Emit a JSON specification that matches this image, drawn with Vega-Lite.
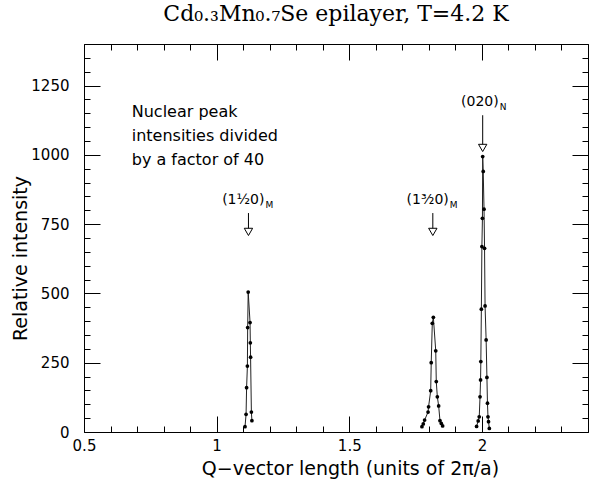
{
  "$schema": "https://vega.github.io/schema/vega-lite/v6.json",
  "width": 504,
  "height": 388,
  "autosize": "none",
  "padding": {"left": 84, "top": 44, "right": 1, "bottom": 48},
  "background": "white",
  "config": {"view": {"stroke": null}, "font": "DejaVu Sans"},
  "title": {"text": "Cd₀.₃Mn₀.₇Se epilayer, T=4.2 K", "font": "DejaVu Serif", "fontSize": 22, "fontWeight": "normal", "color": "black", "offset": 11},
  "datasets": {
    "pts": [
      {"i": 1, "peak": "A", "q": 1.107, "v": 19},
      {"i": 2, "peak": "A", "q": 1.111, "v": 64},
      {"i": 3, "peak": "A", "q": 1.113, "v": 160},
      {"i": 4, "peak": "A", "q": 1.116, "v": 238},
      {"i": 5, "peak": "A", "q": 1.117, "v": 377},
      {"i": 6, "peak": "A", "q": 1.119, "v": 505},
      {"i": 7, "peak": "A", "q": 1.126, "v": 395},
      {"i": 8, "peak": "A", "q": 1.127, "v": 322},
      {"i": 9, "peak": "A", "q": 1.128, "v": 270},
      {"i": 10, "peak": "A", "q": 1.131, "v": 72},
      {"i": 11, "peak": "A", "q": 1.133, "v": 41},
      {"i": 12, "peak": "B", "q": 1.774, "v": 19},
      {"i": 13, "peak": "B", "q": 1.779, "v": 29},
      {"i": 14, "peak": "B", "q": 1.784, "v": 43},
      {"i": 15, "peak": "B", "q": 1.797, "v": 72},
      {"i": 16, "peak": "B", "q": 1.799, "v": 91},
      {"i": 17, "peak": "B", "q": 1.807, "v": 149},
      {"i": 18, "peak": "B", "q": 1.809, "v": 250},
      {"i": 19, "peak": "B", "q": 1.813, "v": 392},
      {"i": 20, "peak": "B", "q": 1.817, "v": 414},
      {"i": 21, "peak": "B", "q": 1.826, "v": 293},
      {"i": 22, "peak": "B", "q": 1.828, "v": 182},
      {"i": 23, "peak": "B", "q": 1.832, "v": 127},
      {"i": 24, "peak": "B", "q": 1.837, "v": 94},
      {"i": 25, "peak": "B", "q": 1.842, "v": 41},
      {"i": 26, "peak": "B", "q": 1.847, "v": 31},
      {"i": 27, "peak": "B", "q": 1.852, "v": 22},
      {"i": 28, "peak": "C", "q": 1.980, "v": 20},
      {"i": 29, "peak": "C", "q": 1.986, "v": 40},
      {"i": 30, "peak": "C", "q": 1.990, "v": 55},
      {"i": 31, "peak": "C", "q": 1.993, "v": 127},
      {"i": 32, "peak": "C", "q": 1.995, "v": 188},
      {"i": 33, "peak": "C", "q": 1.996, "v": 254},
      {"i": 34, "peak": "C", "q": 1.998, "v": 443},
      {"i": 35, "peak": "C", "q": 2.000, "v": 669},
      {"i": 36, "peak": "C", "q": 2.002, "v": 771},
      {"i": 37, "peak": "C", "q": 2.003, "v": 994},
      {"i": 38, "peak": "C", "q": 2.005, "v": 940},
      {"i": 39, "peak": "C", "q": 2.008, "v": 804},
      {"i": 40, "peak": "C", "q": 2.010, "v": 663},
      {"i": 41, "peak": "C", "q": 2.012, "v": 455},
      {"i": 42, "peak": "C", "q": 2.016, "v": 332},
      {"i": 43, "peak": "C", "q": 2.019, "v": 197},
      {"i": 44, "peak": "C", "q": 2.021, "v": 104},
      {"i": 45, "peak": "C", "q": 2.023, "v": 55},
      {"i": 46, "peak": "C", "q": 2.025, "v": 37},
      {"i": 47, "peak": "C", "q": 2.028, "v": 13}
    ],
    "notes": [
      {"q": 0.68, "v": 1155, "text": "Nuclear peak"},
      {"q": 0.68, "v": 1068, "text": "intensities divided"},
      {"q": 0.68, "v": 982, "text": "by a factor of 40"}
    ],
    "labels": [
      {"q": 1.12, "v": 836, "label": "(1½0)", "sub": "M"},
      {"q": 1.815, "v": 836, "label": "(1³⁄₂0)", "sub": "M"},
      {"q": 2.003, "v": 1190, "label": "(020)", "sub": "N"}
    ],
    "arrows": [
      {"q": 1.12, "top": 790, "tip": 722},
      {"q": 1.815, "top": 790, "tip": 722},
      {"q": 2.003, "top": 1143, "tip": 1025}
    ]
  },
  "layer": [
    {
      "data": {"name": "pts"},
      "mark": {"type": "line", "color": "#222222", "strokeWidth": 1},
      "encoding": {
        "x": {"field": "q", "type": "quantitative", "scale": {"domain": [0.5, 2.4], "nice": false, "zero": false},
          "axis": {"orient": "bottom", "values": [0.5,0.6,0.7,0.8,0.9,1,1.1,1.2,1.3,1.4,1.5,1.6,1.7,1.8,1.9,2,2.1,2.2,2.3,2.4], "format": "~g",
            "labelExpr": "abs(datum.value*2-round(datum.value*2))<0.001 ? datum.label : ''",
            "tickSize": {"condition": {"test": "abs(datum.value*2-round(datum.value*2))<0.001", "value": -16}, "value": -6},
            "tickColor": "black", "domainColor": "black", "labelColor": "black", "labelFontSize": 15, "labelPadding": 22,
            "grid": false, "labelFlush": false, "labelOverlap": false,
            "title": "Q−vector length (units of 2π/a)", "titleFontSize": 19, "titleFontWeight": "normal", "titleColor": "black",
            "titleX": 266, "titleY": 36, "titleBaseline": "middle"}},
        "y": {"field": "v", "type": "quantitative", "scale": {"domain": [0, 1400], "nice": false},
          "axis": {"orient": "left", "values": [0,50,100,150,200,250,300,350,400,450,500,550,600,650,700,750,800,850,900,950,1000,1050,1100,1150,1200,1250,1300,1350,1400],
            "format": "d",
            "labelExpr": "datum.value % 250 === 0 ? datum.label : ''",
            "tickSize": {"condition": {"test": "datum.value % 250 === 0", "value": -16}, "value": -6},
            "tickColor": "black", "domainColor": "black", "labelColor": "black", "labelFontSize": 15, "labelPadding": 31,
            "grid": false, "labelFlush": false, "labelOverlap": false,
            "title": "Relative intensity", "titleFontSize": 19, "titleFontWeight": "normal", "titleColor": "black",
            "titleX": -64, "titleY": 214, "titleBaseline": "middle"}},
        "detail": {"field": "peak"},
        "order": {"field": "i", "type": "quantitative"}
      }
    },
    {
      "data": {"name": "pts"},
      "mark": {"type": "circle", "color": "black", "size": 14, "opacity": 1},
      "encoding": {
        "x": {"field": "q", "type": "quantitative",
          "axis": {"orient": "top", "values": [0.5,0.6,0.7,0.8,0.9,1,1.1,1.2,1.3,1.4,1.5,1.6,1.7,1.8,1.9,2,2.1,2.2,2.3,2.4],
            "labels": false, "title": null, "grid": false,
            "tickSize": {"condition": {"test": "abs(datum.value*2-round(datum.value*2))<0.001", "value": -16}, "value": -6},
            "tickColor": "black", "domainColor": "black"}},
        "y": {"field": "v", "type": "quantitative",
          "axis": {"orient": "right", "values": [0,50,100,150,200,250,300,350,400,450,500,550,600,650,700,750,800,850,900,950,1000,1050,1100,1150,1200,1250,1300,1350,1400],
            "labels": false, "title": null, "grid": false,
            "tickSize": {"condition": {"test": "datum.value % 250 === 0", "value": -16}, "value": -6},
            "tickColor": "black", "domainColor": "black"}}
      }
    },
    {
      "data": {"name": "notes"},
      "mark": {"type": "text", "align": "left", "baseline": "middle", "fontSize": 16, "color": "black"},
      "encoding": {
        "x": {"field": "q", "type": "quantitative", "axis": null},
        "y": {"field": "v", "type": "quantitative", "axis": null},
        "text": {"field": "text"}
      }
    },
    {
      "data": {"name": "labels"},
      "mark": {"type": "text", "align": "right", "baseline": "middle", "fontSize": 14, "dx": 16, "color": "black"},
      "encoding": {
        "x": {"field": "q", "type": "quantitative", "axis": null},
        "y": {"field": "v", "type": "quantitative", "axis": null},
        "text": {"field": "label"}
      }
    },
    {
      "data": {"name": "labels"},
      "mark": {"type": "text", "align": "left", "baseline": "middle", "fontSize": 9, "dx": 17, "dy": 5, "color": "black"},
      "encoding": {
        "x": {"field": "q", "type": "quantitative", "axis": null},
        "y": {"field": "v", "type": "quantitative", "axis": null},
        "text": {"field": "sub"}
      }
    },
    {
      "data": {"name": "arrows"},
      "mark": {"type": "rule", "color": "black", "strokeWidth": 1},
      "encoding": {
        "x": {"field": "q", "type": "quantitative", "axis": null},
        "y": {"field": "top", "type": "quantitative", "axis": null},
        "y2": {"field": "tip"}
      }
    },
    {
      "data": {"name": "arrows"},
      "mark": {"type": "point", "shape": "triangle-down", "filled": true, "fill": "white", "stroke": "black", "strokeWidth": 1, "size": 70, "opacity": 1},
      "encoding": {
        "x": {"field": "q", "type": "quantitative", "axis": null},
        "y": {"field": "tip", "type": "quantitative", "axis": null}
      }
    }
  ],
  "resolve": {"axis": {"x": "independent", "y": "independent"}}
}
